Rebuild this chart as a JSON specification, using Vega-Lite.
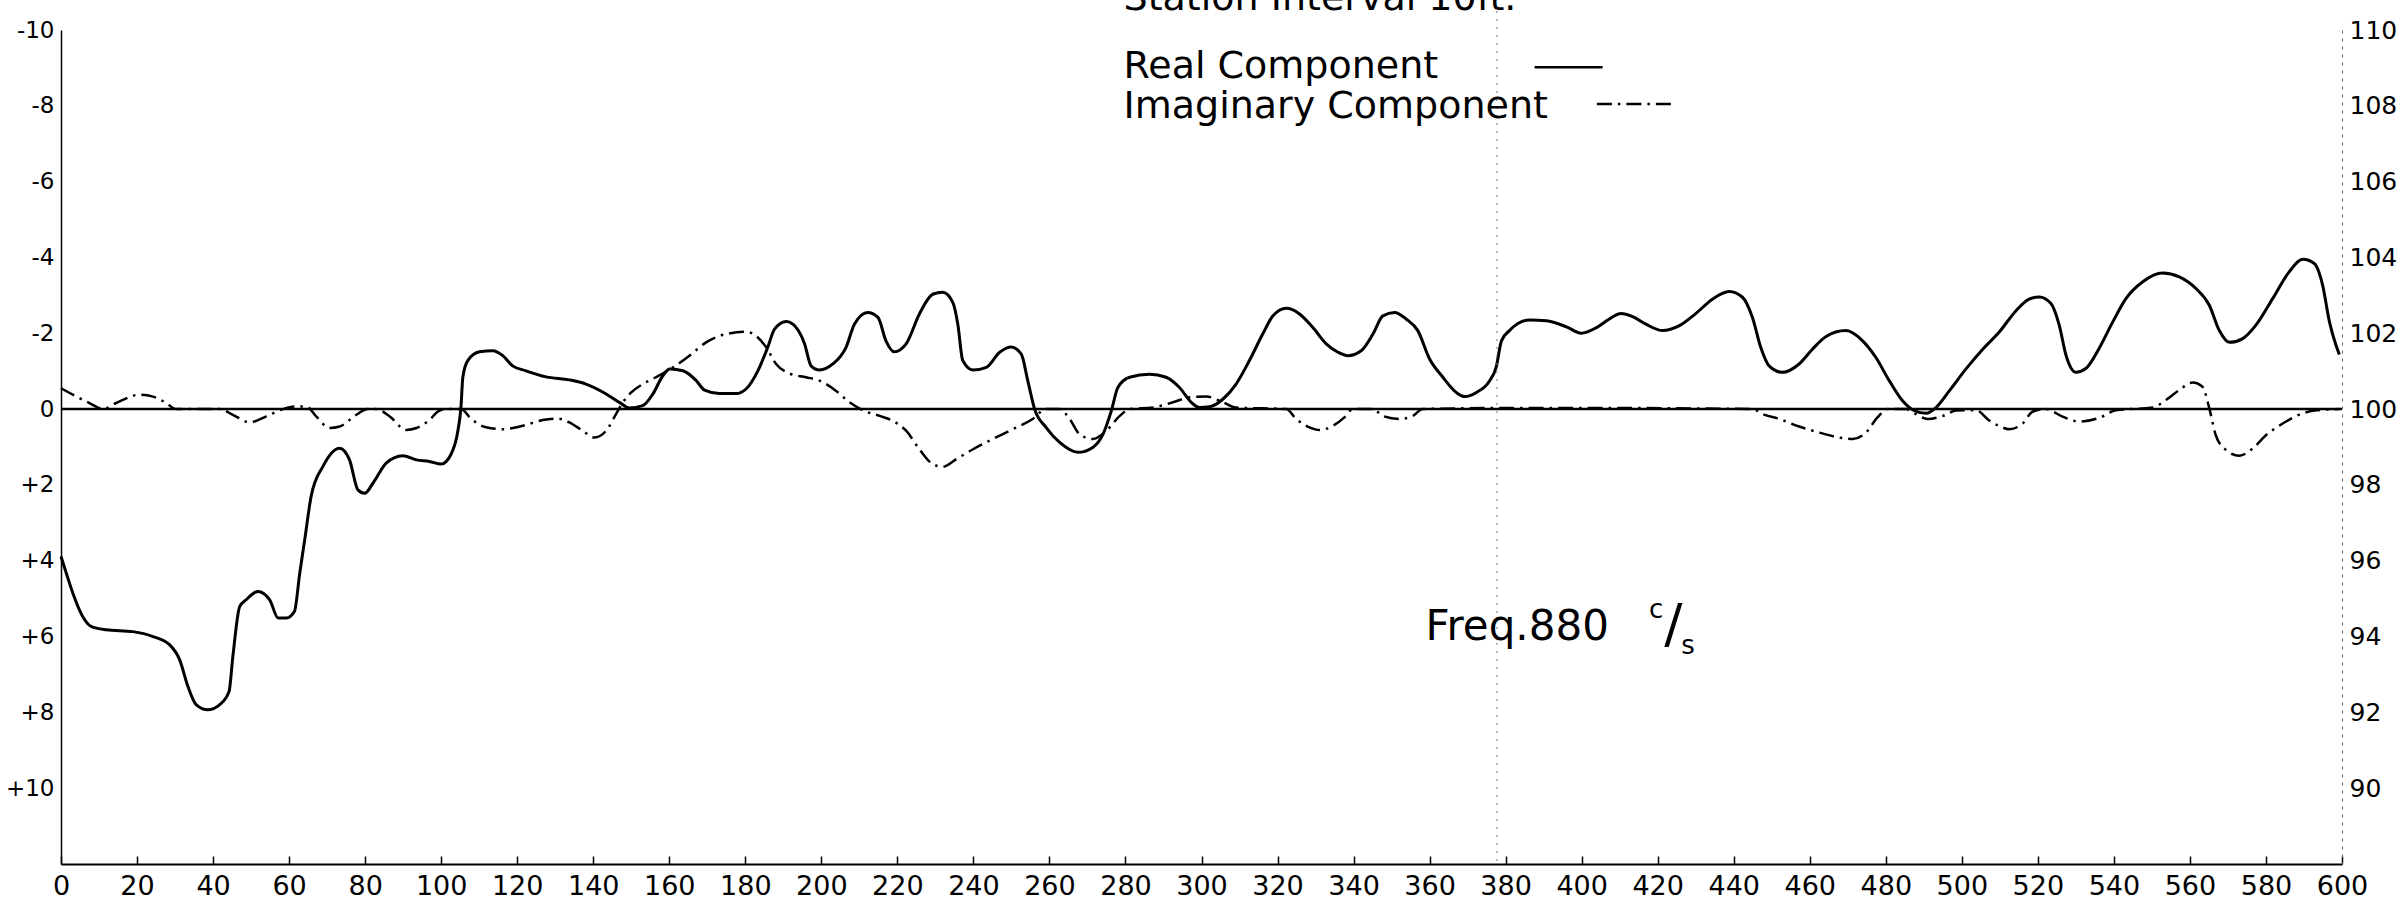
{
  "$schema": "https://vega.github.io/schema/vega-lite/v6.json",
  "width": 2281,
  "height": 834,
  "autosize": {"type": "none"},
  "padding": {"left": 61, "right": 61, "top": 30, "bottom": 35},
  "background": "white",
  "config": {"view": {"stroke": null}, "font": "DejaVu Sans"},
  "data": {"values": [{}]},
  "datasets": {
    "real": [
      {"x": 0, "y": 3.89}, {"x": 1.4, "y": 4.33}, {"x": 3.1, "y": 4.85}, {"x": 5.7, "y": 5.47}, {"x": 7.9, "y": 5.73},
      {"x": 11.9, "y": 5.82}, {"x": 18.9, "y": 5.87}, {"x": 24.2, "y": 6.0}, {"x": 28.6, "y": 6.22}, {"x": 31.2, "y": 6.61},
      {"x": 33.4, "y": 7.32}, {"x": 35.6, "y": 7.8}, {"x": 38.6, "y": 7.93}, {"x": 41.7, "y": 7.8}, {"x": 44.2, "y": 7.45},
      {"x": 45.2, "y": 6.53}, {"x": 47.0, "y": 5.21}, {"x": 48.7, "y": 5.03}, {"x": 51.8, "y": 4.81}, {"x": 54.9, "y": 5.03},
      {"x": 57.1, "y": 5.51}, {"x": 59.3, "y": 5.51}, {"x": 61.4, "y": 5.34}, {"x": 62.8, "y": 4.33}, {"x": 64.1, "y": 3.45},
      {"x": 65.8, "y": 2.3}, {"x": 68.9, "y": 1.51}, {"x": 73.3, "y": 1.03}, {"x": 75.9, "y": 1.34}, {"x": 78.1, "y": 2.13},
      {"x": 79.9, "y": 2.22}, {"x": 82.1, "y": 1.95}, {"x": 85.6, "y": 1.42}, {"x": 89.9, "y": 1.23}, {"x": 93.5, "y": 1.34},
      {"x": 96.9, "y": 1.38}, {"x": 100.0, "y": 1.45}, {"x": 102.6, "y": 1.19}, {"x": 104.4, "y": 0.57}, {"x": 105.2, "y": -0.04},
      {"x": 105.7, "y": -0.84}, {"x": 107.0, "y": -1.28}, {"x": 110.1, "y": -1.51}, {"x": 113.6, "y": -1.54}, {"x": 116.2, "y": -1.41},
      {"x": 118.8, "y": -1.14}, {"x": 122.3, "y": -1.01}, {"x": 127.6, "y": -0.85}, {"x": 133.7, "y": -0.77}, {"x": 138.1, "y": -0.66},
      {"x": 143.4, "y": -0.4}, {"x": 147.3, "y": -0.15}, {"x": 149.5, "y": -0.03}, {"x": 153.0, "y": -0.09}, {"x": 155.7, "y": -0.4},
      {"x": 158.3, "y": -0.88}, {"x": 160.1, "y": -1.06}, {"x": 163.6, "y": -1.01}, {"x": 167.1, "y": -0.75}, {"x": 169.3, "y": -0.5},
      {"x": 173.2, "y": -0.41}, {"x": 177.6, "y": -0.41}, {"x": 180.2, "y": -0.53}, {"x": 183.3, "y": -1.01}, {"x": 185.9, "y": -1.63},
      {"x": 187.7, "y": -2.11}, {"x": 190.8, "y": -2.31}, {"x": 193.4, "y": -2.15}, {"x": 195.6, "y": -1.72}, {"x": 197.3, "y": -1.14},
      {"x": 199.5, "y": -1.03}, {"x": 203.0, "y": -1.19}, {"x": 206.5, "y": -1.63}, {"x": 208.7, "y": -2.24}, {"x": 212.2, "y": -2.55},
      {"x": 214.9, "y": -2.42}, {"x": 217.0, "y": -1.8}, {"x": 219.2, "y": -1.51}, {"x": 222.3, "y": -1.72}, {"x": 225.8, "y": -2.51},
      {"x": 229.3, "y": -3.03}, {"x": 231.9, "y": -3.08}, {"x": 234.6, "y": -2.81}, {"x": 235.9, "y": -2.24}, {"x": 237.2, "y": -1.28},
      {"x": 239.9, "y": -1.03}, {"x": 243.4, "y": -1.1}, {"x": 246.9, "y": -1.5}, {"x": 249.9, "y": -1.64}, {"x": 252.6, "y": -1.45},
      {"x": 254.3, "y": -0.75}, {"x": 256.1, "y": 0}, {"x": 259.1, "y": 0.48}, {"x": 262.7, "y": 0.88}, {"x": 267.5, "y": 1.14},
      {"x": 271.4, "y": 1.01}, {"x": 274.1, "y": 0.66}, {"x": 276.3, "y": 0.04}, {"x": 278.0, "y": -0.57}, {"x": 281.1, "y": -0.84},
      {"x": 286.3, "y": -0.92}, {"x": 290.7, "y": -0.84}, {"x": 294.2, "y": -0.57}, {"x": 297.3, "y": -0.18}, {"x": 299.5, "y": -0.04},
      {"x": 302.1, "y": -0.06}, {"x": 305.6, "y": -0.26}, {"x": 309.1, "y": -0.66}, {"x": 312.6, "y": -1.28}, {"x": 316.1, "y": -1.98},
      {"x": 318.8, "y": -2.46}, {"x": 322.3, "y": -2.66}, {"x": 325.8, "y": -2.51}, {"x": 329.3, "y": -2.15}, {"x": 332.8, "y": -1.72},
      {"x": 335.9, "y": -1.5}, {"x": 338.5, "y": -1.41}, {"x": 342.0, "y": -1.54}, {"x": 345.1, "y": -1.98}, {"x": 347.7, "y": -2.46},
      {"x": 350.8, "y": -2.55}, {"x": 353.9, "y": -2.37}, {"x": 356.9, "y": -2.07}, {"x": 360.0, "y": -1.32}, {"x": 363.5, "y": -0.84},
      {"x": 367.0, "y": -0.44}, {"x": 369.2, "y": -0.33}, {"x": 372.3, "y": -0.44}, {"x": 375.8, "y": -0.75}, {"x": 377.5, "y": -1.1},
      {"x": 378.9, "y": -1.8}, {"x": 381.0, "y": -2.07}, {"x": 386.3, "y": -2.35}, {"x": 390.7, "y": -2.33}, {"x": 396.0, "y": -2.17},
      {"x": 399.9, "y": -2.0}, {"x": 403.9, "y": -2.15}, {"x": 407.2, "y": -2.37}, {"x": 410.3, "y": -2.52}, {"x": 413.4, "y": -2.44},
      {"x": 416.9, "y": -2.24}, {"x": 421.3, "y": -2.07}, {"x": 425.7, "y": -2.2}, {"x": 430.0, "y": -2.52}, {"x": 434.4, "y": -2.9},
      {"x": 438.8, "y": -3.1}, {"x": 442.3, "y": -2.95}, {"x": 444.9, "y": -2.42}, {"x": 447.1, "y": -1.63}, {"x": 449.3, "y": -1.14},
      {"x": 452.8, "y": -0.97}, {"x": 457.2, "y": -1.19}, {"x": 460.7, "y": -1.58}, {"x": 464.2, "y": -1.91}, {"x": 469.5, "y": -2.07},
      {"x": 473.9, "y": -1.8}, {"x": 477.4, "y": -1.36}, {"x": 480.9, "y": -0.75}, {"x": 484.4, "y": -0.22}, {"x": 487.5, "y": 0.04},
      {"x": 490.6, "y": 0.11}, {"x": 493.2, "y": -0.04}, {"x": 496.7, "y": -0.48}, {"x": 501.1, "y": -1.06}, {"x": 505.5, "y": -1.58},
      {"x": 509.9, "y": -2.04}, {"x": 514.2, "y": -2.59}, {"x": 517.7, "y": -2.9}, {"x": 520.4, "y": -2.96}, {"x": 523.4, "y": -2.79},
      {"x": 525.6, "y": -2.22}, {"x": 527.4, "y": -1.42}, {"x": 530.0, "y": -0.97}, {"x": 532.6, "y": -1.07}, {"x": 536.1, "y": -1.6},
      {"x": 539.7, "y": -2.3}, {"x": 543.2, "y": -2.92}, {"x": 547.6, "y": -3.36}, {"x": 552.8, "y": -3.59}, {"x": 557.2, "y": -3.49},
      {"x": 561.6, "y": -3.18}, {"x": 565.1, "y": -2.74}, {"x": 567.7, "y": -2.08}, {"x": 570.4, "y": -1.76}, {"x": 573.9, "y": -1.86},
      {"x": 577.4, "y": -2.22}, {"x": 581.8, "y": -2.92}, {"x": 586.1, "y": -3.62}, {"x": 589.7, "y": -3.95}, {"x": 592.7, "y": -3.84},
      {"x": 594.9, "y": -3.27}, {"x": 596.7, "y": -2.3}, {"x": 598.4, "y": -1.69}, {"x": 599.3, "y": -1.44}
    ],
    "imag": [
      {"x": 0, "y": -0.55}, {"x": 3.1, "y": -0.38}, {"x": 7.5, "y": -0.16}, {"x": 11, "y": 0}, {"x": 14.5, "y": -0.16},
      {"x": 20.7, "y": -0.38}, {"x": 24.2, "y": -0.33}, {"x": 27.7, "y": -0.16}, {"x": 30.3, "y": 0}, {"x": 41.7, "y": 0},
      {"x": 45.2, "y": 0.15}, {"x": 49.6, "y": 0.35}, {"x": 54, "y": 0.19}, {"x": 58.4, "y": 0}, {"x": 61.9, "y": -0.07},
      {"x": 64.5, "y": -0.07}, {"x": 67.1, "y": 0.19}, {"x": 70.7, "y": 0.5}, {"x": 73.3, "y": 0.46}, {"x": 77.7, "y": 0.15},
      {"x": 80.7, "y": 0}, {"x": 82.9, "y": 0}, {"x": 86.4, "y": 0.19}, {"x": 90.8, "y": 0.55}, {"x": 93.5, "y": 0.5},
      {"x": 97, "y": 0.28}, {"x": 99.2, "y": 0.06}, {"x": 101.3, "y": 0}, {"x": 105.2, "y": 0}, {"x": 107.9, "y": 0.26},
      {"x": 111.8, "y": 0.48}, {"x": 116.2, "y": 0.53}, {"x": 121.5, "y": 0.44}, {"x": 126.7, "y": 0.29}, {"x": 130.7, "y": 0.25},
      {"x": 133.7, "y": 0.35}, {"x": 137.2, "y": 0.57}, {"x": 140.3, "y": 0.75}, {"x": 143.4, "y": 0.57}, {"x": 146.0, "y": 0.13},
      {"x": 147.8, "y": -0.18}, {"x": 150.0, "y": -0.44}, {"x": 153.0, "y": -0.66}, {"x": 156.5, "y": -0.84}, {"x": 161.0, "y": -1.1},
      {"x": 165.3, "y": -1.41}, {"x": 169.7, "y": -1.76}, {"x": 175.0, "y": -1.98}, {"x": 180.2, "y": -2.04}, {"x": 183.3, "y": -1.89},
      {"x": 185.5, "y": -1.63}, {"x": 188.1, "y": -1.19}, {"x": 191.6, "y": -0.94}, {"x": 196.0, "y": -0.84}, {"x": 199.5, "y": -0.75},
      {"x": 203.9, "y": -0.48}, {"x": 207.4, "y": -0.18}, {"x": 210.9, "y": 0.03}, {"x": 215.3, "y": 0.18}, {"x": 218.8, "y": 0.31},
      {"x": 222.3, "y": 0.57}, {"x": 225.8, "y": 1.06}, {"x": 229.3, "y": 1.45}, {"x": 231.9, "y": 1.52}, {"x": 235.5, "y": 1.32},
      {"x": 239.9, "y": 1.06}, {"x": 245.1, "y": 0.79}, {"x": 250.4, "y": 0.53}, {"x": 255.6, "y": 0.26}, {"x": 259.1, "y": 0},
      {"x": 262.7, "y": 0}, {"x": 265.3, "y": 0.26}, {"x": 267.9, "y": 0.66}, {"x": 271.4, "y": 0.79}, {"x": 275.0, "y": 0.57},
      {"x": 278.5, "y": 0.18}, {"x": 281.1, "y": 0}, {"x": 287.2, "y": -0.04}, {"x": 292.5, "y": -0.18}, {"x": 296.9, "y": -0.31},
      {"x": 301.3, "y": -0.33}, {"x": 304.8, "y": -0.22}, {"x": 309.1, "y": -0.04}, {"x": 322.3, "y": 0}, {"x": 324.9, "y": 0.26},
      {"x": 328.4, "y": 0.48}, {"x": 331, "y": 0.55}, {"x": 334.6, "y": 0.44}, {"x": 337.6, "y": 0.22}, {"x": 339.8, "y": 0},
      {"x": 345.1, "y": 0}, {"x": 347.7, "y": 0.18}, {"x": 352.1, "y": 0.26}, {"x": 355.6, "y": 0.18}, {"x": 358.2, "y": 0},
      {"x": 380, "y": -0.03}, {"x": 400, "y": -0.03}, {"x": 445, "y": 0}, {"x": 447.6, "y": 0.13}, {"x": 452, "y": 0.26},
      {"x": 457.2, "y": 0.46}, {"x": 462.5, "y": 0.62}, {"x": 467.8, "y": 0.75}, {"x": 471.3, "y": 0.79}, {"x": 474.8, "y": 0.62},
      {"x": 477.8, "y": 0.22}, {"x": 480.5, "y": 0}, {"x": 485.3, "y": 0}, {"x": 487.5, "y": 0.11}, {"x": 491, "y": 0.26},
      {"x": 495, "y": 0.18}, {"x": 498.5, "y": 0.04}, {"x": 503.7, "y": 0.03}, {"x": 507.2, "y": 0.3}, {"x": 509.9, "y": 0.45},
      {"x": 512.5, "y": 0.53}, {"x": 516, "y": 0.38}, {"x": 518.6, "y": 0.07}, {"x": 522.1, "y": 0}, {"x": 526.5, "y": 0.2},
      {"x": 530.9, "y": 0.33}, {"x": 536.2, "y": 0.23}, {"x": 540.5, "y": 0.03}, {"x": 550.2, "y": -0.04}, {"x": 553.7, "y": -0.24},
      {"x": 557.2, "y": -0.5}, {"x": 560.7, "y": -0.7}, {"x": 563.3, "y": -0.59}, {"x": 565.1, "y": -0.02}, {"x": 566.8, "y": 0.69},
      {"x": 569.5, "y": 1.08}, {"x": 573, "y": 1.23}, {"x": 576.5, "y": 1.04}, {"x": 580, "y": 0.69}, {"x": 584.4, "y": 0.38},
      {"x": 589.7, "y": 0.11}, {"x": 593.2, "y": 0.03}, {"x": 599.3, "y": 0}
    ]
  },
  "resolve": {"axis": {"y": "independent"}},
  "layer": [
    {
      "data": {"name": "real"},
      "mark": {"type": "line", "color": "black", "strokeWidth": 3, "interpolate": "monotone", "strokeJoin": "round"},
      "encoding": {
        "x": {
          "field": "x", "type": "quantitative",
          "scale": {"domain": [0, 600], "nice": false, "zero": false},
          "axis": {
            "title": null, "values": [0, 20, 40, 60, 80, 100, 120, 140, 160, 180, 200, 220, 240, 260, 280, 300, 320, 340, 360, 380, 400, 420, 440, 460, 480, 500, 520, 540, 560, 580, 600],
            "grid": false, "tickSize": -8, "tickColor": "black", "tickWidth": 1.5,
            "domainColor": "black", "domainWidth": 2, "labelFlush": false,
            "labelFont": "DejaVu Sans", "labelFontSize": 27, "labelColor": "black", "labelPadding": 17
          }
        },
        "y": {
          "field": "y", "type": "quantitative",
          "scale": {"domain": [-10, 12], "reverse": true, "nice": false, "zero": false},
          "axis": {
            "orient": "left", "title": null, "values": [-10, -8, -6, -4, -2, 0, 2, 4, 6, 8, 10],
            "labelExpr": "datum.value > 0 ? '+' + datum.value : '' + datum.value", "ticks": false, "grid": false,
            "domain": true, "domainColor": "black", "domainWidth": 1.5,
            "labelFont": "DejaVu Sans", "labelFontSize": 23, "labelColor": "black", "labelPadding": 7
          }
        }
      }
    },
    {
      "data": {"name": "imag"},
      "mark": {"type": "line", "color": "black", "strokeWidth": 2.5, "strokeDash": [15, 6, 2.5, 6], "interpolate": "monotone"},
      "encoding": {
        "x": {"field": "x", "type": "quantitative"},
        "y": {
          "field": "y", "type": "quantitative",
          "axis": {
            "orient": "right", "title": null, "values": [-10, -8, -6, -4, -2, 0, 2, 4, 6, 8, 10],
            "labelExpr": "'' + (100 - datum.value)", "ticks": false, "grid": false,
            "domain": true, "domainColor": "#666666", "domainWidth": 1, "domainDash": [3, 5],
            "labelFont": "DejaVu Sans", "labelFontSize": 25, "labelColor": "black", "labelPadding": 7
          }
        }
      }
    },
    {
      "mark": {"type": "rule", "color": "black", "strokeWidth": 2.5},
      "encoding": {
        "y": {"datum": 0, "type": "quantitative", "axis": null}
      }
    },
    {
      "mark": {"type": "rule", "color": "#777777", "strokeWidth": 1, "strokeDash": [2, 6], "clip": false},
      "encoding": {
        "x": {"datum": 377.7, "type": "quantitative"},
        "y": {"datum": -10.5, "type": "quantitative", "axis": null},
        "y2": {"datum": 12}
      }
    },
    {
      "mark": {"type": "text", "text": "Station Interval 10ft.", "align": "left", "baseline": "alphabetic", "fontSize": 38, "font": "DejaVu Sans", "color": "black", "clip": false},
      "encoding": {"x": {"datum": 279.5, "type": "quantitative"}, "y": {"datum": -10.53, "type": "quantitative", "axis": null}}
    },
    {
      "mark": {"type": "text", "text": "Real Component", "align": "left", "baseline": "alphabetic", "fontSize": 38, "font": "DejaVu Sans", "color": "black"},
      "encoding": {"x": {"datum": 279.5, "type": "quantitative"}, "y": {"datum": -8.73, "type": "quantitative", "axis": null}}
    },
    {
      "mark": {"type": "text", "text": "Imaginary Component", "align": "left", "baseline": "alphabetic", "fontSize": 38, "font": "DejaVu Sans", "color": "black"},
      "encoding": {"x": {"datum": 279.5, "type": "quantitative"}, "y": {"datum": -7.68, "type": "quantitative", "axis": null}}
    },
    {
      "mark": {"type": "rule", "color": "black", "strokeWidth": 2.5},
      "encoding": {"x": {"datum": 387.6, "type": "quantitative"}, "x2": {"datum": 405.5}, "y": {"datum": -9.02, "type": "quantitative", "axis": null}}
    },
    {
      "mark": {"type": "rule", "color": "black", "strokeWidth": 2.5, "strokeDash": [15, 6, 2.5, 6]},
      "encoding": {"x": {"datum": 404, "type": "quantitative"}, "x2": {"datum": 424}, "y": {"datum": -8.05, "type": "quantitative", "axis": null}}
    },
    {
      "mark": {"type": "text", "text": "Freq.880", "align": "left", "baseline": "alphabetic", "fontSize": 42, "font": "DejaVu Sans", "color": "black"},
      "encoding": {"x": {"datum": 358.9, "type": "quantitative"}, "y": {"datum": 6.09, "type": "quantitative", "axis": null}}
    },
    {
      "mark": {"type": "text", "text": "c", "align": "center", "baseline": "alphabetic", "fontSize": 26, "font": "DejaVu Sans", "color": "black"},
      "encoding": {"x": {"datum": 419.6, "type": "quantitative"}, "y": {"datum": 5.5, "type": "quantitative", "axis": null}}
    },
    {
      "mark": {"type": "text", "text": "/", "align": "center", "baseline": "alphabetic", "fontSize": 54, "font": "DejaVu Sans", "color": "black"},
      "encoding": {"x": {"datum": 424.1, "type": "quantitative"}, "y": {"datum": 6.15, "type": "quantitative", "axis": null}}
    },
    {
      "mark": {"type": "text", "text": "s", "align": "center", "baseline": "alphabetic", "fontSize": 26, "font": "DejaVu Sans", "color": "black"},
      "encoding": {"x": {"datum": 428.0, "type": "quantitative"}, "y": {"datum": 6.45, "type": "quantitative", "axis": null}}
    }
  ]
}
